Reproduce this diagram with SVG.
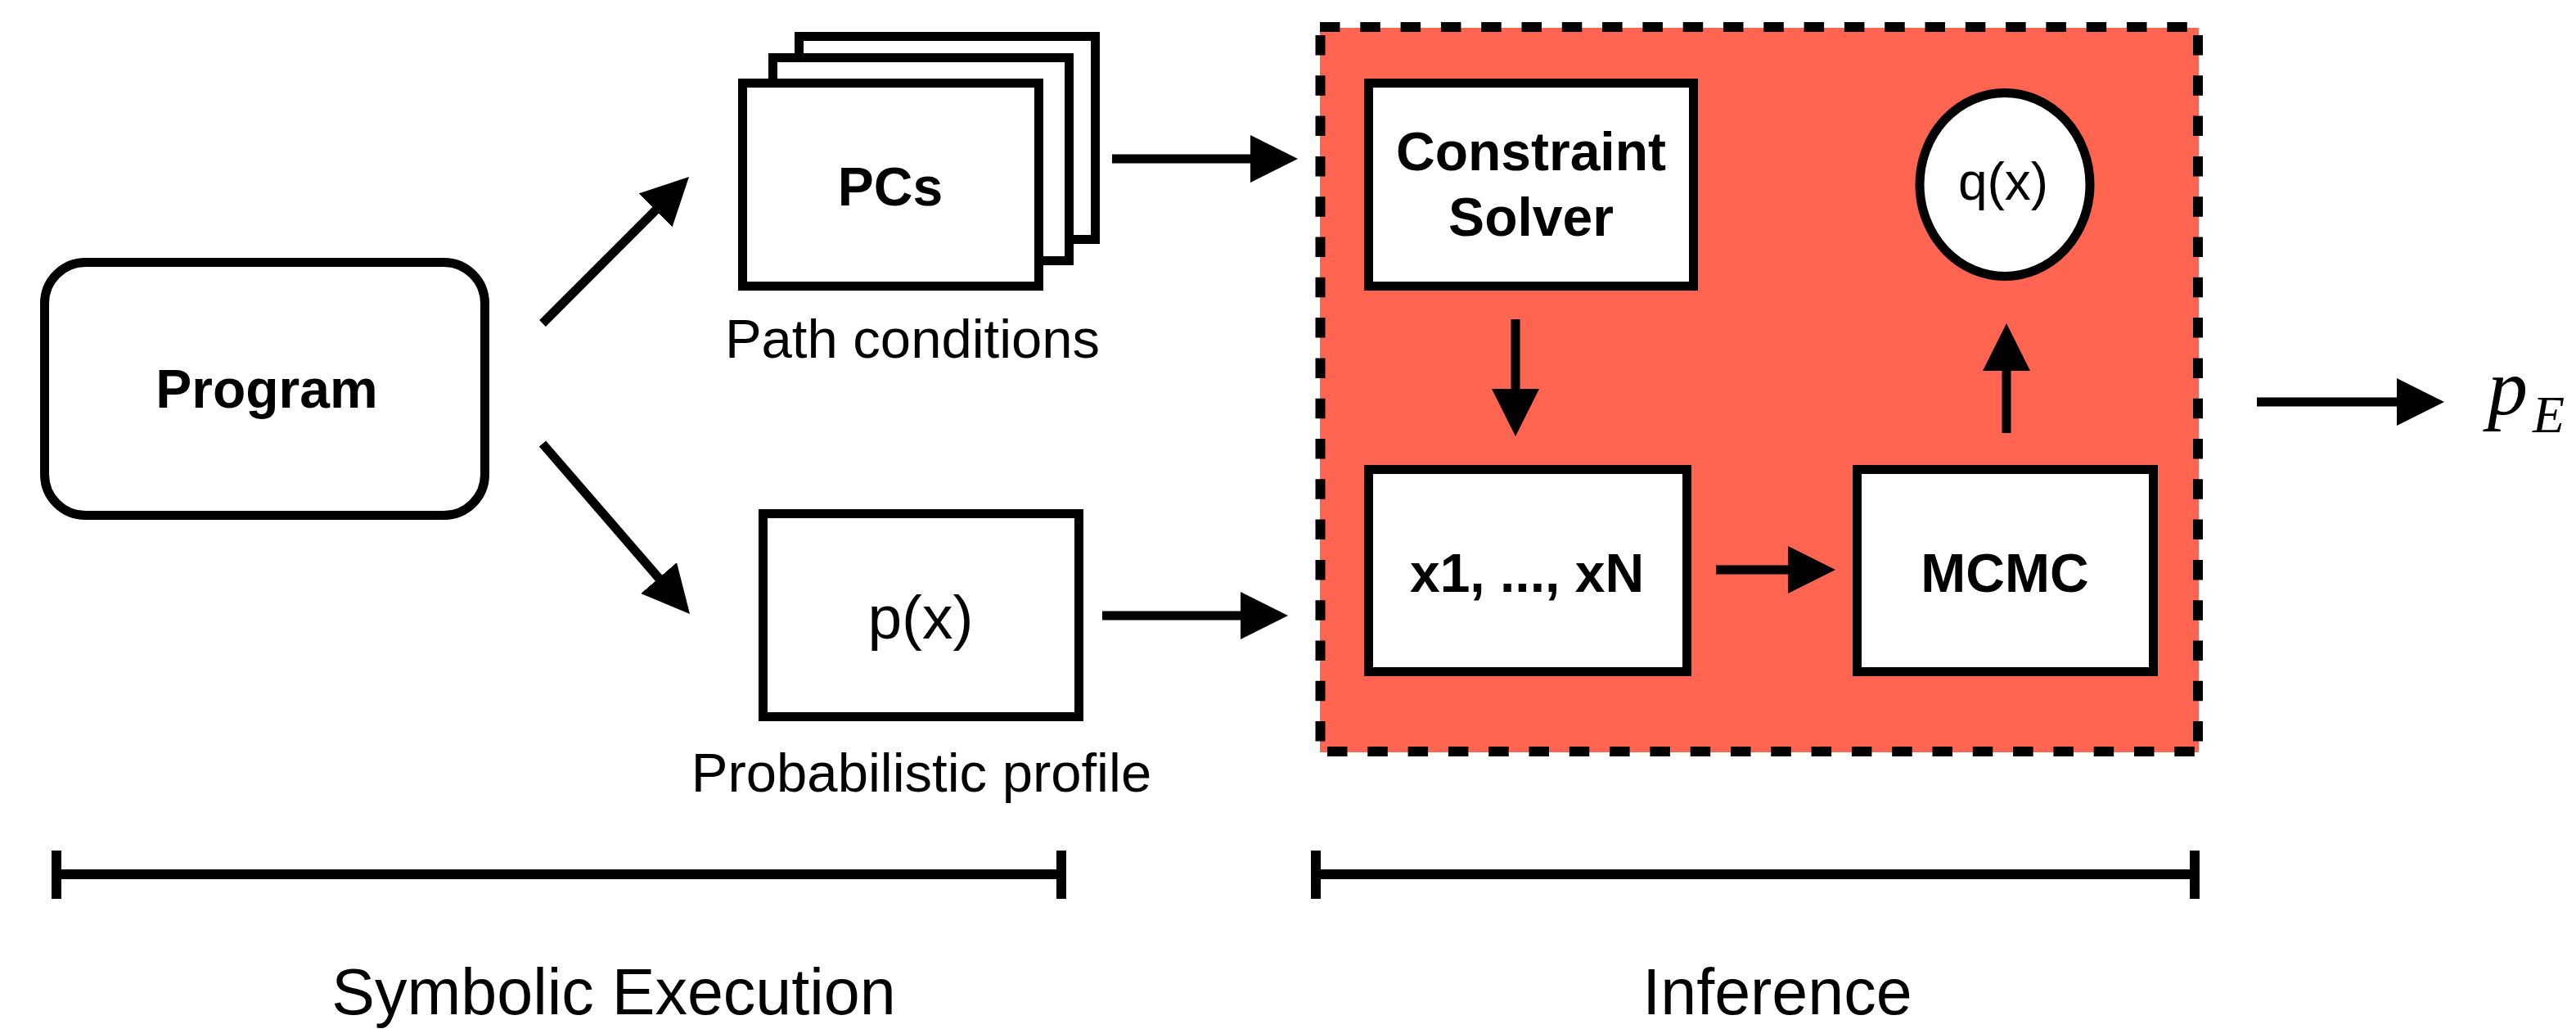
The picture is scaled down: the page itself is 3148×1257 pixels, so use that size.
<svg xmlns="http://www.w3.org/2000/svg" width="3148" height="1257" viewBox="0 0 3148 1257">
<style>
.box{fill:#fff;stroke:#000;stroke-width:11}
.lbl{font-family:"Liberation Sans",Arial,Helvetica,sans-serif;font-weight:bold;font-size:66px;fill:#000;text-anchor:middle}
.fn{font-family:"Liberation Sans",Arial,Helvetica,sans-serif;font-weight:normal;fill:#000;text-anchor:middle}
.cap{font-family:"Liberation Sans",Arial,Helvetica,sans-serif;font-size:67px;fill:#000;text-anchor:middle}
.sec{font-family:"Liberation Sans",Arial,Helvetica,sans-serif;font-size:79px;fill:#000;text-anchor:middle}
.edge{stroke:#000;stroke-width:11;fill:none}
.bar{stroke:#000;stroke-width:12;fill:none}
.dash{stroke:#000;stroke-width:12;fill:none;stroke-dasharray:24.5 24.8}
</style>
<defs>
<marker id="ah" viewBox="0 0 58 58" refX="28" refY="29" markerWidth="58" markerHeight="58" markerUnits="userSpaceOnUse" orient="auto">
<path d="M0,0 L58,29 L0,58 Z" fill="#000"/>
</marker>
</defs>
<rect width="3148" height="1257" fill="#fff"/>

<g id="inference-region">
<rect x="1613" y="34" width="1074" height="885" fill="#FF6550"/>
<path class="dash" d="M1613,33 H2690"/>
<path class="dash" d="M1613.5,43 V918"/>
<path class="dash" d="M2686,43 V918"/>
<path class="dash" d="M1622,918 H2686"/>
</g>

<g id="program">
<rect class="box" x="54.5" y="320.5" width="538" height="309" rx="50" ry="50"/>
<text class="lbl" x="326" y="498">Program</text>
</g>

<g id="pcs">
<rect class="box" x="976.5" y="44.5" width="362" height="248"/>
<rect class="box" x="944.5" y="70.5" width="362" height="248"/>
<rect class="box" x="907.5" y="101.5" width="362" height="248"/>
<text class="lbl" x="1088" y="251">PCs</text>
<text class="cap" x="1115" y="437">Path conditions</text>
</g>

<g id="px">
<rect class="box" x="932.5" y="627.5" width="386" height="248"/>
<text class="fn" x="1125" y="780" font-size="75">p(x)</text>
<text class="cap" x="1126" y="967">Probabilistic profile</text>
</g>

<g id="constraint-solver">
<rect class="box" x="1672.5" y="101.5" width="397" height="248"/>
<text class="lbl" x="1871" y="208">Constraint</text>
<text class="lbl" x="1871" y="288">Solver</text>
</g>

<g id="qx">
<ellipse class="box" cx="2450" cy="225.5" rx="104" ry="112"/>
<text class="fn" x="2448" y="244" font-size="64">q(x)</text>
</g>

<g id="samples">
<rect class="box" x="1672.5" y="573.5" width="389" height="247"/>
<text class="lbl" x="1866" y="723">x1, ..., xN</text>
</g>

<g id="mcmc">
<rect class="box" x="2269.5" y="573.5" width="362" height="247"/>
<text class="lbl" x="2450" y="723">MCMC</text>
</g>

<g id="pe">
<text x="3040" y="506" font-family="'Liberation Serif','Times New Roman',serif" font-style="italic" font-size="98">p<tspan x="3095" y="528" font-size="64">E</tspan></text>
</g>

<g id="connectors">
<line class="edge" x1="663" y1="395" x2="820.8" y2="237.2" marker-end="url(#ah)"/>
<line class="edge" x1="663" y1="542" x2="823.4" y2="727.3" marker-end="url(#ah)"/>
<line class="edge" x1="1359" y1="194" x2="1556" y2="194" marker-end="url(#ah)"/>
<line class="edge" x1="1347" y1="752" x2="1544" y2="752" marker-end="url(#ah)"/>
<line class="edge" x1="1852" y1="390" x2="1852" y2="503" marker-end="url(#ah)"/>
<line class="edge" x1="2097" y1="696" x2="2213" y2="696" marker-end="url(#ah)"/>
<line class="edge" x1="2452" y1="529" x2="2452" y2="425" marker-end="url(#ah)"/>
<line class="edge" x1="2758" y1="491" x2="2957" y2="491" marker-end="url(#ah)"/>
</g>

<g id="symbolic-execution-span">
<path class="bar" d="M69,1039 V1098 M69,1068 H1297 M1297,1039 V1098"/>
<text class="sec" x="750" y="1239">Symbolic Execution</text>
</g>

<g id="inference-span">
<path class="bar" d="M1608,1039 V1098 M1608,1068 H2682 M2682,1039 V1098"/>
<text class="sec" x="2172" y="1239">Inference</text>
</g>
</svg>
